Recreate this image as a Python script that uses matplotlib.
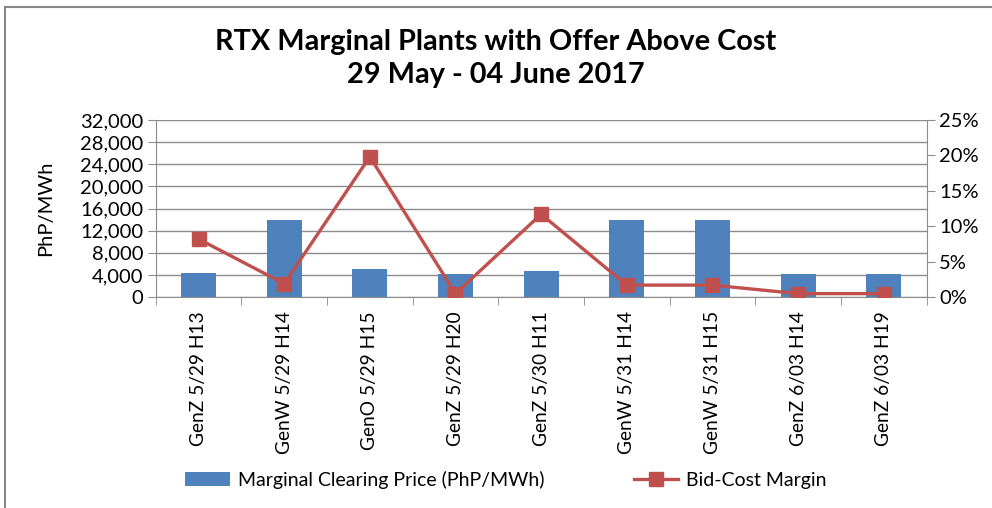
import numpy as np
import matplotlib.pyplot as plt
from matplotlib.lines import Line2D
from matplotlib.ticker import FuncFormatter, PercentFormatter

plt.rcParams['font.family'] = ['Lato', 'DejaVu Sans']

# Data
plants = ['GenZ 5/29 H13', 'GenW 5/29 H14', 'GenO 5/29 H15', 'GenZ 5/29 H20',
          'GenZ 5/30 H11', 'GenW 5/31 H14', 'GenW 5/31 H15', 'GenZ 6/03 H14',
          'GenZ 6/03 H19']
price = [4400, 14000, 5050, 4200, 4650, 14000, 14000, 4200, 4200]
margin = [8.2, 1.9, 19.8, 0.5, 11.7, 1.7, 1.7, 0.5, 0.5]

bar_color = '#4F81BD'
line_color = '#C0504D'
grid_color = '#8C8C8C'

fig = plt.figure(figsize=(9.92, 5.08), dpi=100)
ax = fig.add_axes([0.157, 0.415, 0.777, 0.349])
ax2 = ax.twinx()

x = np.arange(len(plants))
ax.bar(x, price, width=0.41, color=bar_color, zorder=2,
       label='Marginal Clearing Price (PhP/MWh)')
ax2.plot(x, margin, color=line_color, lw=2.4, marker='s', markersize=9.5,
         zorder=3, label='Bid-Cost Margin')

ax.set_xlim(-0.5, len(plants) - 0.5)
ax.set_ylim(0, 32000)
ax.set_yticks(np.arange(0, 32001, 4000))
ax.yaxis.set_major_formatter(FuncFormatter(lambda v, p: f'{int(v):,}'))
ax2.set_ylim(0, 25)
ax2.set_yticks(np.arange(0, 26, 5))
ax2.yaxis.set_major_formatter(PercentFormatter(decimals=0))

ax.grid(axis='y', color=grid_color, lw=1.0, zorder=0)
ax.set_axisbelow(True)

ax.set_xticks(x)
ax.set_xticklabels(plants, rotation=90, fontsize=13.8)
ax.set_xticks(np.arange(-0.5, len(plants), 1), minor=True)
ax.tick_params(axis='x', which='major', length=0, pad=10)
ax.tick_params(axis='x', which='minor', length=6, color=grid_color)
ax.tick_params(axis='y', labelsize=14.5, length=6, color=grid_color, pad=3)
ax2.tick_params(axis='y', labelsize=14.5, length=6, color=grid_color, pad=3)

for a in (ax, ax2):
    a.spines['top'].set_visible(False)
    for s in ('left', 'right', 'bottom'):
        a.spines[s].set_color(grid_color)
ax.spines['right'].set_visible(False)
ax2.spines['left'].set_visible(False)
ax2.spines['bottom'].set_visible(False)

ax.set_ylabel('PhP/MWh', fontsize=14.5, labelpad=0)
ax.yaxis.set_label_coords(-0.132, 0.5)

fig.text(0.5, 0.917, 'RTX Marginal Plants with Offer Above Cost',
         ha='center', va='center', fontsize=20.8, fontweight='bold')
fig.text(0.5, 0.852, '29 May - 04 June 2017',
         ha='center', va='center', fontsize=20.8, fontweight='bold')

h1, l1 = ax.get_legend_handles_labels()
h2, l2 = ax2.get_legend_handles_labels()
fig.legend(h1 + h2, l1 + l2, loc='center', bbox_to_anchor=(0.51, 0.055),
           ncol=2, frameon=False, fontsize=14, columnspacing=4.6,
           handlelength=2.3, handletextpad=0.4)

# chart border (left and top edges)
fig.add_artist(Line2D([0.0055, 0.0055], [0, 0.986], color='#888888', lw=1.5,
                      transform=fig.transFigure))
fig.add_artist(Line2D([0.0055, 1], [0.986, 0.986], color='#888888', lw=1.5,
                      transform=fig.transFigure))

fig.savefig('out.png', dpi=100)
